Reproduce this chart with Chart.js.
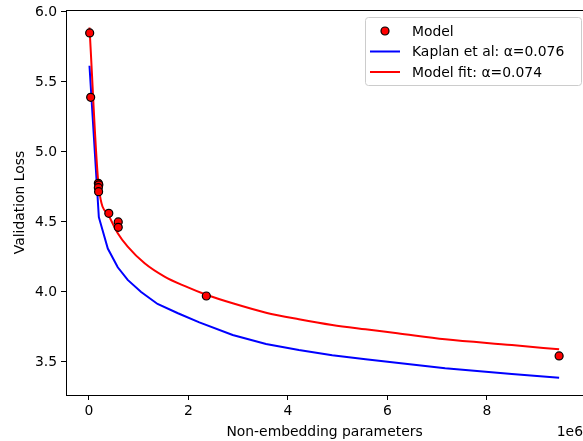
<!DOCTYPE html>
<html>
<head>
<meta charset="utf-8">
<script src="https://cdn.jsdelivr.net/npm/chart.js@4/dist/chart.umd.min.js"></script>
<style>
    html, body { margin: 0; padding: 0; background: #fff; overflow: hidden; }
    canvas { display: block; }
</style>
</head>
<body>
<canvas id="loss-chart" width="583" height="441"></canvas>
<script>
// Measured models (parameters in units of 1e6)
const modelParams = [0.016, 0.036, 0.19, 0.20, 0.19, 0.195, 0.40, 0.59, 0.59, 2.36, 9.45];
const modelLoss = [5.85, 5.39, 4.776, 4.765, 4.745, 4.716, 4.562, 4.50, 4.462, 3.971, 3.543];

// Kaplan et al. reference curve
const kaplanParams = [0.012, 0.20, 0.38, 0.58, 0.78, 1.05, 1.38, 1.79, 2.22, 2.89, 3.56, 4.22, 4.89, 5.56, 7.16, 8.5, 9.45];
const kaplanLoss = [5.616, 4.534, 4.31, 4.176, 4.086, 4.00, 3.914, 3.848, 3.783, 3.693, 3.629, 3.586, 3.548, 3.519, 3.455, 3.414, 3.388];

// Fitted curve for our models
const fitParams = [0.012, 0.20, 0.40, 0.58, 0.78, 1.12, 1.52, 1.92, 2.36, 2.89, 3.56, 4.22, 4.89, 5.56, 6.2, 7.16, 8.5, 9.45];
const fitLoss = [5.889, 4.745, 4.545, 4.42, 4.324, 4.205, 4.11, 4.043, 3.98, 3.919, 3.852, 3.805, 3.764, 3.733, 3.705, 3.662, 3.621, 3.59];

const xTicks = [0, 2, 4, 6, 8];
const yTicks = [3.5, 4.0, 4.5, 5.0, 5.5, 6.0];

const FONT = { family: 'DejaVu Sans', size: 13.9 };
const SCALE = 1e6;

const toPoints = (xs, ys) => xs.map((x, i) => ({ x: x * SCALE, y: ys[i] }));

// matplotlib-style legend box in the upper right corner
const legendBox = {
    id: 'legendBox',
    afterDraw(chart) {
        const c = chart.ctx;
        const x0 = 365, y0 = 17, w = 216, h = 68;
        c.save();
        c.fillStyle = 'rgba(255,255,255,0.8)';
        c.strokeStyle = '#cccccc';
        c.lineWidth = 1;
        c.beginPath();
        c.roundRect(x0 + 0.5, y0 + 0.5, w, h, 3);
        c.fill();
        c.stroke();

        c.font = `${FONT.size}px ${FONT.family}`;
        c.textBaseline = 'middle';
        chart.data.datasets.forEach((ds, i) => {
            const yy = y0 + 14 + i * 20.5;
            if (ds.showLine) {
                c.strokeStyle = ds.borderColor;
                c.lineWidth = 2;
                c.beginPath();
                c.moveTo(x0 + 5, yy);
                c.lineTo(x0 + 35, yy);
                c.stroke();
            } else {
                c.fillStyle = ds.backgroundColor;
                c.strokeStyle = ds.borderColor;
                c.lineWidth = 1.2;
                c.beginPath();
                c.arc(x0 + 20, yy, 4, 0, Math.PI * 2);
                c.fill();
                c.stroke();
            }
            c.fillStyle = '#000';
            c.fillText(ds.label, x0 + 47, yy + 1);
        });
        c.restore();
    }
};

// top spine and the "1e6" offset text
const frameAndOffset = {
    id: 'frameAndOffset',
    afterDraw(chart) {
        const c = chart.ctx;
        const a = chart.chartArea;
        c.save();
        c.strokeStyle = '#000';
        c.lineWidth = 1;
        c.beginPath();
        c.moveTo(a.left, a.top + 0.5);
        c.lineTo(a.right + 2, a.top + 0.5);
        c.stroke();
        c.font = `${FONT.size}px ${FONT.family}`;
        c.fillStyle = '#000';
        c.textAlign = 'right';
        c.textBaseline = 'middle';
        c.fillText('1e6', 583, 432);
        c.restore();
    }
};

const ctx = document.getElementById('loss-chart').getContext('2d');

new Chart(ctx, {
    type: 'scatter',
    data: {
        datasets: [
            {
                label: 'Model',
                data: toPoints(modelParams, modelLoss),
                backgroundColor: '#ff0000',
                borderColor: '#000000',
                borderWidth: 1.2,
                pointRadius: 4,
                showLine: false,
                order: 0
            },
            {
                label: 'Kaplan et al: α=0.076',
                data: toPoints(kaplanParams, kaplanLoss),
                borderColor: '#0000ff',
                backgroundColor: '#0000ff',
                borderWidth: 2,
                pointRadius: 0,
                showLine: true,
                order: 2
            },
            {
                label: 'Model fit: α=0.074',
                data: toPoints(fitParams, fitLoss),
                borderColor: '#ff0000',
                backgroundColor: '#ff0000',
                borderWidth: 2,
                pointRadius: 0,
                showLine: true,
                cubicInterpolationMode: 'monotone',
                order: 1
            }
        ]
    },
    options: {
        responsive: false,
        animation: false,
        // no auto padding, so the right spine falls just off the canvas like the reference
        layout: { autoPadding: false, padding: { left: 0, right: 0, top: 10, bottom: 0 } },
        plugins: {
            legend: { display: false },
            tooltip: { enabled: false }
        },
        scales: {
            x: {
                type: 'linear',
                min: -0.46 * SCALE,
                max: 9.93 * SCALE,
                afterBuildTicks: scale => { scale.ticks = xTicks.map(v => ({ value: v * SCALE })); },
                afterFit: scale => { scale.height = 46; scale.paddingLeft = 0; scale.paddingRight = 0; },
                ticks: {
                    color: '#000',
                    font: FONT,
                    padding: 3,
                    maxRotation: 0,
                    callback: v => String(v / SCALE)
                },
                grid: { display: true, drawOnChartArea: false, drawTicks: true, tickLength: 5, color: '#000' },
                border: { display: true, color: '#000', width: 1 },
                title: { display: true, text: 'Non-embedding parameters', color: '#000', font: FONT, padding: 0.6 }
            },
            y: {
                type: 'linear',
                min: 3.264,
                max: 6.014,
                afterBuildTicks: scale => { scale.ticks = yTicks.map(v => ({ value: v })); },
                afterFit: scale => { scale.width = 66; scale.paddingTop = 0; scale.paddingBottom = 0; },
                ticks: {
                    color: '#000',
                    font: FONT,
                    padding: 4,
                    callback: v => v.toFixed(1)
                },
                grid: { display: true, drawOnChartArea: false, drawTicks: true, tickLength: 5, color: '#000' },
                border: { display: true, color: '#000', width: 1 },
                title: { display: true, text: 'Validation Loss', color: '#000', font: FONT, padding: 11.6 }
            }
        }
    },
    plugins: [legendBox, frameAndOffset]
});
</script>
</body>
</html>
